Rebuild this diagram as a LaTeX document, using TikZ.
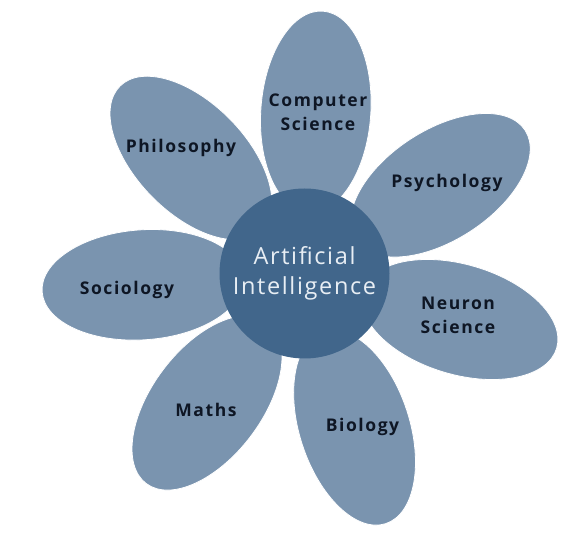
\documentclass[tikz,border=0pt]{standalone}
\usepackage{fontspec}
\setmainfont{Open Sans}
\newfontfamily\petalfont[LetterSpace=9]{Open Sans Bold}
\newfontfamily\corefont[LetterSpace=7]{Open Sans}
\usetikzlibrary{shapes.geometric,calc}

\definecolor{petalblue}{HTML}{7A94AF}
\definecolor{coreblue}{HTML}{41668B}
\definecolor{petaltext}{HTML}{0E1624}
\definecolor{coretext}{HTML}{E8EEF4}

\begin{document}
\begin{tikzpicture}[x=1pt,y=1pt,
  petal/.style={ellipse, fill=petalblue, draw=white, line width=0.8pt,
    minimum width=202pt, minimum height=110pt, inner sep=0pt},
  label/.style={text=petaltext, align=center,
    font=\petalfont\fontsize{17.5}{24}\selectfont},
  core/.style={circle, fill=coreblue, minimum size=170pt, inner sep=0pt,
    text=coretext, align=center, font=\corefont\fontsize{23.5}{30}\selectfont}]

\useasboundingbox (0,0) rectangle (586,533);

% centre
\coordinate (ai) at (304.5,259.5);

% petals
\node[petal, rotate=86]    (cspetal)   at ($(ai)+(86:162)$) {};
\node[petal, rotate=33]    (psypetal)  at ($(ai)+(33:162)$) {};
\node[petal, rotate=-16.5] (neupetal)  at ($(ai)+(-16.5:162)$) {};
\node[petal, rotate=-72]   (biopetal)  at ($(ai)+(-72:162)$) {};
\node[petal, rotate=-127]  (mathpetal) at ($(ai)+(-127:162)$) {};
\node[petal, rotate=184]   (socpetal)  at ($(ai)+(184:162)$) {};
\node[petal, rotate=134.5] (phipetal)  at ($(ai)+(134.5:162)$) {};

% petal labels
\node[label] (cs)   at (318,421)   {Computer\\Science};
\node[label] (psy)  at (447,350)   {Psychology};
\node[label] (neu)  at (458,218)   {Neuron\\Science};
\node[label] (bio)  at (362.5,106) {Biology};
\node[label] (math) at (206,123)   {Maths};
\node[label] (soc)  at (127,243)   {Sociology};
\node[label] (phi)  at (181,385)   {Philosophy};

% core
\node[core] (core) at (ai) {Artificial\\Intelligence};

\end{tikzpicture}
\end{document}
